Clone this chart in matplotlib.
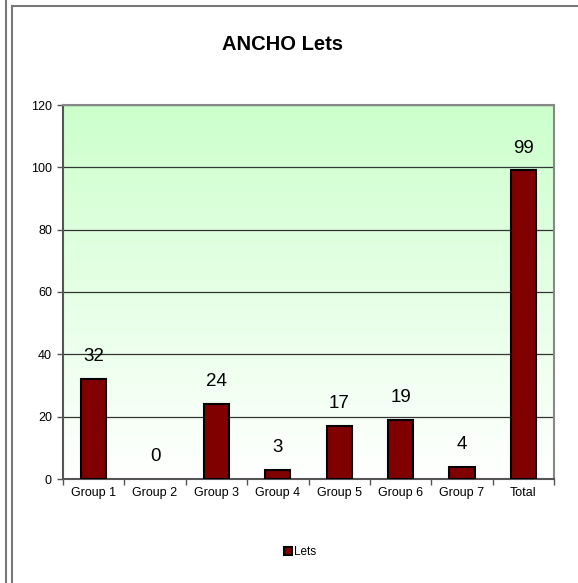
import numpy as np
import matplotlib
matplotlib.use('Agg')
import matplotlib.pyplot as plt
from matplotlib.lines import Line2D
from matplotlib.colors import LinearSegmentedColormap

plt.rcParams['font.family'] = ['Liberation Sans', 'DejaVu Sans']

# Data
categories = ['Group 1', 'Group 2', 'Group 3', 'Group 4', 'Group 5', 'Group 6', 'Group 7', 'Total']
lets = [32, 0, 24, 3, 17, 19, 4, 99]

W, H = 578, 583
fig = plt.figure(figsize=(W / 100, H / 100), dpi=100)

# plot area in pixels
left, top, right, bottom = 63, 105, 554, 479
ax = fig.add_axes([left / W, 1 - bottom / H, (right - left) / W, (bottom - top) / H])

# green-to-white gradient background
cmap = LinearSegmentedColormap.from_list('bg', ['#ffffff', '#ccffcc'])
grad = np.linspace(0, 1, 256).reshape(-1, 1)
ax.imshow(grad, cmap=cmap, aspect='auto', extent=[-0.5, len(categories) - 0.5, 0, 120],
          origin='lower', zorder=0)

# horizontal gridlines
for yv in range(20, 121, 20):
    ax.axhline(yv, color='#333333', linewidth=0.9, zorder=1)

x = np.arange(len(categories))
edges = ['black' if v > 0 else 'none' for v in lets]
bars = ax.bar(x, lets, width=0.41, color='#800000', edgecolor=edges, linewidth=1.5, zorder=3)

for xi, v in zip(x, lets):
    ax.annotate(str(v), (xi, v), xytext=(0, 10), textcoords='offset points',
                ha='center', va='bottom', fontsize=13.5, color='black', zorder=4)

ax.set_xlim(-0.5, len(categories) - 0.5)
ax.set_ylim(0, 120)
ax.set_yticks(range(0, 121, 20))

ax.set_xticks(x)
ax.set_xticklabels(categories, fontsize=9)
ax.set_xticks(np.arange(-0.5, len(categories), 1), minor=True)
ax.tick_params(axis='x', which='major', length=0, pad=6)
ax.tick_params(axis='x', which='minor', length=4, width=1, color='#555555')
ax.tick_params(axis='y', length=4, width=1, labelsize=9, color='#555555', pad=4)

for s in ['top', 'right']:
    ax.spines[s].set_color('#888888')
    ax.spines[s].set_linewidth(1.5)
ax.spines['left'].set_color('#555555')
ax.spines['left'].set_linewidth(1.5)
ax.spines['bottom'].set_color('#555555')
ax.spines['bottom'].set_linewidth(1.5)

fig.text(283 / W, 1 - 45 / H, 'ANCHO Lets', ha='center', va='center',
         fontsize=14.5, fontweight='bold')

# legend
legend_patch = plt.Rectangle((0, 0), 1, 1, facecolor='#800000', edgecolor='black', linewidth=1.5)
ax.legend([legend_patch], ['Lets'], loc='center', bbox_to_anchor=(300 / W, 1 - 552 / H),
          bbox_transform=fig.transFigure, frameon=False, fontsize=8.5,
          handlelength=0.7, handleheight=0.7, handletextpad=0.1)

# outer frame lines
def px_line(xs, ys):
    fig.add_artist(Line2D([v / W for v in xs], [1 - v / H for v in ys],
                          color='#777777', linewidth=1.5, transform=fig.transFigure))

px_line([5.5, 5.5], [0, H])
px_line([11.5, 11.5], [5.5, H])
px_line([11.5, W], [5.5, 5.5])

fig.savefig('out.png', dpi=100)
